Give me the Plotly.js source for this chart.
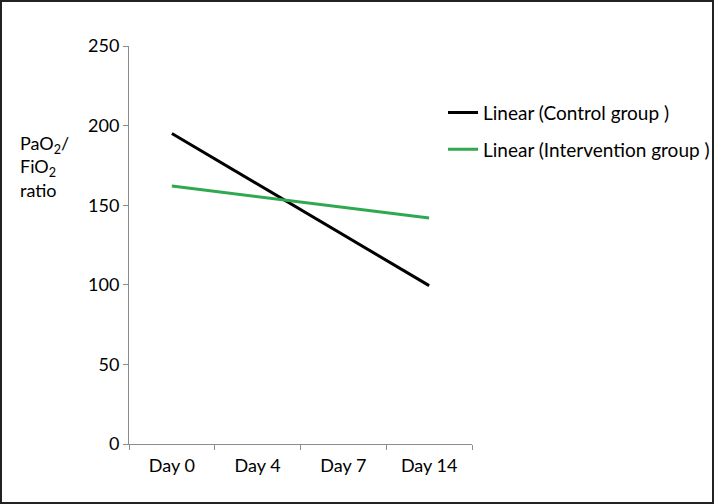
<!DOCTYPE html>
<html>
<head>
<meta charset="utf-8">
<script src="https://cdn.plot.ly/plotly-3.0.1.min.js"></script>
<style>
html,body{margin:0;padding:0;background:#fff;}
#wrap{width:714px;height:504px;box-sizing:border-box;border:2px solid #222;position:relative;overflow:hidden;}
#chart{position:absolute;left:-2px;top:-2px;width:714px;height:504px;}
</style>
</head>
<body>
<div id="wrap"><div id="chart"></div></div>
<script>
var categories = ["Day 0", "Day 4", "Day 7", "Day 14"];
var controlValues = [195, 163.3, 131.7, 99.5];
var interventionValues = [162, 155.3, 148.7, 142];
var seriesNames = ["Linear (Control group )", "Linear (Intervention group )"];
var yTicks = [0, 50, 100, 150, 200, 250];

var font = "Lato, 'Open Sans', sans-serif";

var traces = [
  {x: categories, y: controlValues, name: seriesNames[0], type: "scatter", mode: "lines",
   line: {color: "#000000", width: 3}, legendgroup: "a"},
  {x: categories, y: interventionValues, name: seriesNames[1], type: "scatter", mode: "lines",
   line: {color: "#2fa84f", width: 3}, legendgroup: "b"}
];

var layout = {
  width: 714, height: 504,
  margin: {l: 129, r: 242, t: 46, b: 60, autoexpand: false},
  paper_bgcolor: "#fff", plot_bgcolor: "#fff",
  font: {family: font, size: 18, color: "#000"},
  showlegend: true,
  legend: {x: 0.9155, y: 0.88, xanchor: "left", yanchor: "top", bgcolor: "rgba(0,0,0,0)",
           font: {family: font, size: 19, color: "#000"}, itemwidth: 30,
           traceorder: "grouped", tracegroupgap: 9},
  xaxis: {type: "category", range: [-0.5, 3.5], showgrid: false, zeroline: false,
          showline: true, linecolor: "#8c8c8c", linewidth: 1,
          ticks: "outside", tickson: "boundaries", ticklen: 5, tickcolor: "#8c8c8c",
          ticklabelstandoff: 5,
          tickfont: {family: font, size: 18, color: "#000"}, fixedrange: true},
  yaxis: {range: [0, 250], tickvals: yTicks, showgrid: false, zeroline: false,
          showline: true, linecolor: "#8c8c8c", linewidth: 1,
          ticks: "outside", ticklen: 5, tickcolor: "#8c8c8c",
          tickfont: {family: font, size: 18, color: "#000"}, fixedrange: true},
  annotations: [{
    xref: "paper", yref: "paper", x: -0.325, y: 0.79, xanchor: "left", yanchor: "top",
    align: "left", showarrow: false,
    text: "PaO<sub>2</sub>/<br>FiO<sub>2</sub><br>ratio",
    font: {family: font, size: 18, color: "#000"}
  }]
};

Plotly.newPlot("chart", traces, layout, {displayModeBar: false, staticPlot: true});
</script>
</body>
</html>
